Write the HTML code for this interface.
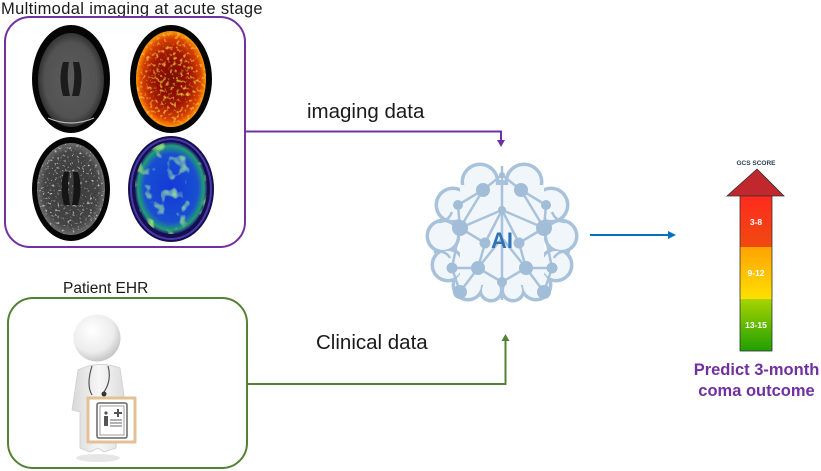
<!DOCTYPE html>
<html><head><meta charset="utf-8"><style>
html,body{margin:0;padding:0;background:#fff;}
svg{display:block;}
text{font-family:"Liberation Sans",sans-serif;}
</style></head><body>
<svg width="821" height="471" viewBox="0 0 821 471" xmlns="http://www.w3.org/2000/svg">
<defs>
  <filter id="speck" x="0" y="0" width="100%" height="100%">
    <feTurbulence type="fractalNoise" baseFrequency="0.3" numOctaves="2" seed="3" result="n"/>
    <feColorMatrix in="n" type="matrix" values="0 0 0 0 1  0 0 0 0 0.55  0 0 0 0 0.05  0 0 0 3 -1.65" result="s"/>
    <feComposite in="s" in2="SourceGraphic" operator="in" result="sc"/>
    <feMerge><feMergeNode in="SourceGraphic"/><feMergeNode in="sc"/></feMerge>
  </filter>
  <filter id="speckW" x="0" y="0" width="100%" height="100%">
    <feTurbulence type="fractalNoise" baseFrequency="0.4" numOctaves="2" seed="7" result="n"/>
    <feColorMatrix in="n" type="matrix" values="0 0 0 0 0.85  0 0 0 0 0.85  0 0 0 0 0.85  0 0 0 3 -1.85" result="s"/>
    <feComposite in="s" in2="SourceGraphic" operator="in" result="sc"/>
    <feMerge><feMergeNode in="SourceGraphic"/><feMergeNode in="sc"/></feMerge>
  </filter>
  <filter id="speckG" x="0" y="0" width="100%" height="100%">
    <feTurbulence type="fractalNoise" baseFrequency="0.09" numOctaves="2" seed="11" result="n"/>
    <feColorMatrix in="n" type="matrix" values="0 0 0 0 0.35  0 0 0 0 0.9  0 0 0 0 0.2  0 0 0 3 -1.75" result="s"/>
    <feComposite in="s" in2="SourceGraphic" operator="in" result="sc"/>
    <feMerge><feMergeNode in="SourceGraphic"/><feMergeNode in="sc"/></feMerge>
  </filter>
  <radialGradient id="t1" cx="50%" cy="50%" r="50%">
    <stop offset="0" stop-color="#5c5c5c"/><stop offset="0.8" stop-color="#525252"/><stop offset="1" stop-color="#333"/>
  </radialGradient>
  <radialGradient id="pet" cx="50%" cy="50%" r="50%">
    <stop offset="0" stop-color="#7a0800"/><stop offset="0.55" stop-color="#a01400"/><stop offset="0.85" stop-color="#d84000"/><stop offset="1" stop-color="#ff9800"/>
  </radialGradient>
  <radialGradient id="flair" cx="50%" cy="50%" r="50%">
    <stop offset="0" stop-color="#3c3c3c"/><stop offset="0.8" stop-color="#444"/><stop offset="1" stop-color="#6a6a6a"/>
  </radialGradient>
  <radialGradient id="blue" cx="50%" cy="50%" r="50%">
    <stop offset="0" stop-color="#1438d8"/><stop offset="0.75" stop-color="#1a50d0"/><stop offset="0.92" stop-color="#20a070"/><stop offset="1" stop-color="#2a1f8a"/>
  </radialGradient>
  <radialGradient id="head" cx="40%" cy="35%" r="65%">
    <stop offset="0" stop-color="#ffffff"/><stop offset="0.7" stop-color="#ececec"/><stop offset="1" stop-color="#c8c8c8"/>
  </radialGradient>
  <linearGradient id="body" x1="0" y1="0" x2="1" y2="0">
    <stop offset="0" stop-color="#d8d8d8"/><stop offset="0.5" stop-color="#f6f6f6"/><stop offset="1" stop-color="#dcdcdc"/>
  </linearGradient>
  <linearGradient id="red" x1="0" y1="0" x2="0" y2="1">
    <stop offset="0" stop-color="#ff2a1f"/><stop offset="1" stop-color="#f04a10"/>
  </linearGradient>
  <linearGradient id="yel" x1="0" y1="0" x2="0" y2="1">
    <stop offset="0" stop-color="#ffa200"/><stop offset="1" stop-color="#ffe000"/>
  </linearGradient>
  <linearGradient id="grn" x1="0" y1="0" x2="0" y2="1">
    <stop offset="0" stop-color="#a8d400"/><stop offset="1" stop-color="#1fa000"/>
  </linearGradient>
</defs>

<!-- Title -->
<text x="1" y="14" font-size="16.5" fill="#1a1a1a" letter-spacing="0.35">Multimodal imaging at acute stage</text>

<!-- Purple box -->
<rect x="5" y="17" width="240" height="230" rx="25" ry="25" fill="none" stroke="#7030a0" stroke-width="2"/>

<!-- MRI top-left -->
<ellipse cx="71" cy="79" rx="39" ry="54" fill="#050505"/>
<ellipse cx="71" cy="80" rx="33" ry="47" fill="url(#t1)"/>
<path d="M63 62 Q58 78 63 96 L70 96 Q66 78 69 62 Z M79 62 Q84 78 79 96 L72 96 Q76 78 73 62 Z" fill="#1c1c1c"/>
<path d="M48 118 Q71 128 94 118" stroke="#bdbdbd" stroke-width="1.2" fill="none"/>

<!-- MRI top-right -->
<ellipse cx="171" cy="79" rx="41" ry="54" fill="#050505"/>
<ellipse cx="171" cy="79" rx="35" ry="48" fill="url(#pet)" filter="url(#speck)"/>

<!-- MRI bottom-left -->
<ellipse cx="71" cy="189" rx="39" ry="52" fill="#050505"/>
<ellipse cx="71" cy="189" rx="34" ry="46" fill="url(#flair)" filter="url(#speckW)"/>
<path d="M64 172 Q59 188 64 205 L70 205 Q67 188 69 172 Z M78 172 Q83 188 78 205 L72 205 Q75 188 73 172 Z" fill="#151515"/>

<!-- MRI bottom-right -->
<ellipse cx="171" cy="189" rx="43" ry="53" fill="#14104a"/>
<ellipse cx="171" cy="189" rx="40" ry="50" fill="none" stroke="#4a38b0" stroke-width="2"/>
<ellipse cx="171" cy="188" rx="36" ry="46" fill="url(#blue)" filter="url(#speckG)"/>

<!-- imaging data connector -->
<polyline points="245,131.5 501,131.5 501,141" fill="none" stroke="#7030a0" stroke-width="2"/>
<polygon points="497,140 505,140 501,147" fill="#7030a0"/>
<text x="307" y="118" font-size="20.5" fill="#1a1a1a">imaging data</text>

<!-- Patient EHR -->
<text x="63" y="293" font-size="15.5" fill="#1a1a1a">Patient EHR</text>
<rect x="8" y="298" width="239" height="170" rx="25" ry="25" fill="none" stroke="#548235" stroke-width="2"/>

<!-- Doctor figure -->
<ellipse cx="98" cy="458" rx="22" ry="4" fill="#e6e6e6"/>
<path d="M78 370 Q98 360 120 368 L126 410 L118 412 L116 448 L104 452 L98 448 L90 452 L80 448 L80 412 L72 410 Z" fill="url(#body)" stroke="#cfcfcf" stroke-width="0.8"/>
<path d="M92 366 Q86 385 92 395 M108 366 Q112 380 104 392" stroke="#555" stroke-width="1.2" fill="none"/>
<circle cx="104" cy="394" r="2.5" fill="#333"/>
<circle cx="97" cy="338" r="23.5" fill="url(#head)"/>
<!-- Clipboard -->
<rect x="88" y="398" width="47" height="44" fill="#fff" stroke="#e2c196" stroke-width="3"/>
<rect x="97" y="403" width="30" height="35" rx="2" fill="#fff" stroke="#666" stroke-width="1.5"/>
<rect x="100" y="406" width="24" height="29" fill="none" stroke="#888" stroke-width="0.8"/>
<path d="M118 409 V417 M114 413 H122" stroke="#555" stroke-width="2"/>
<circle cx="106" cy="413" r="1.6" fill="#555"/>
<rect x="104" y="416" width="4" height="10" fill="#555"/>
<path d="M110 420 H122 M110 423 H122 M110 426 H122" stroke="#666" stroke-width="1"/>

<!-- Clinical data connector -->
<polyline points="247,384 505.5,384 505.5,340" fill="none" stroke="#548235" stroke-width="2"/>
<polygon points="501.5,341 509.5,341 505.5,334" fill="#548235"/>
<text x="316" y="349" font-size="20.5" fill="#1a1a1a">Clinical data</text>

<!-- AI Brain -->
<g>
  <g fill="#a9c2dc">
    <circle cx="480" cy="182" r="19.5"/><circle cx="453" cy="205" r="18.5"/><circle cx="443" cy="236" r="17.5"/>
    <circle cx="448" cy="265" r="17.5"/><circle cx="468" cy="285" r="16.5"/><circle cx="491" cy="290" r="12.5"/>
    <circle cx="524" cy="182" r="19.5"/><circle cx="551" cy="205" r="18.5"/><circle cx="561" cy="236" r="17.5"/>
    <circle cx="556" cy="265" r="17.5"/><circle cx="536" cy="285" r="16.5"/><circle cx="513" cy="290" r="12.5"/>
    <rect x="470" y="180" width="64" height="110"/>
  </g>
  <g fill="#f1f6fb">
    <circle cx="480" cy="182" r="16"/><circle cx="453" cy="205" r="15"/><circle cx="443" cy="236" r="14"/>
    <circle cx="448" cy="265" r="14"/><circle cx="468" cy="285" r="13"/><circle cx="491" cy="290" r="9"/>
    <circle cx="524" cy="182" r="16"/><circle cx="551" cy="205" r="15"/><circle cx="561" cy="236" r="14"/>
    <circle cx="556" cy="265" r="14"/><circle cx="536" cy="285" r="13"/><circle cx="513" cy="290" r="9"/>
    <rect x="460" y="185" width="84" height="100"/>
  </g>
  <g stroke="#a9c2dc" stroke-width="2.5" fill="none">
    <path d="M502 166 V300"/>
    <path d="M438 222 Q448 222 452 212 M566 222 Q556 222 552 212"/>
    <path d="M434 252 Q446 250 450 258 M570 252 Q558 250 554 258"/>
    <line x1="483" y1="190" x2="502" y2="175"/><line x1="521" y1="190" x2="502" y2="175"/>
    <line x1="483" y1="190" x2="458" y2="205"/><line x1="521" y1="190" x2="546" y2="205"/>
    <line x1="483" y1="190" x2="460" y2="228"/><line x1="521" y1="190" x2="544" y2="228"/>
    <line x1="502" y1="210" x2="460" y2="228"/><line x1="502" y1="210" x2="544" y2="228"/>
    <line x1="502" y1="210" x2="485" y2="243"/><line x1="502" y1="210" x2="519" y2="243"/>
    <line x1="460" y1="228" x2="485" y2="243"/><line x1="544" y1="228" x2="519" y2="243"/>
    <line x1="460" y1="228" x2="452" y2="268"/><line x1="544" y1="228" x2="552" y2="268"/>
    <line x1="485" y1="243" x2="478" y2="268"/><line x1="519" y1="243" x2="526" y2="268"/>
    <line x1="502" y1="238" x2="478" y2="268"/><line x1="502" y1="238" x2="526" y2="268"/>
    <line x1="452" y1="268" x2="478" y2="268"/><line x1="552" y1="268" x2="526" y2="268"/>
    <line x1="478" y1="268" x2="502" y2="282"/><line x1="526" y1="268" x2="502" y2="282"/>
    <line x1="452" y1="268" x2="460" y2="292"/><line x1="552" y1="268" x2="544" y2="292"/>
    <line x1="478" y1="268" x2="460" y2="292"/><line x1="526" y1="268" x2="544" y2="292"/>
    <line x1="458" y1="205" x2="460" y2="228"/><line x1="546" y1="205" x2="544" y2="228"/>
  </g>
  <g fill="#a2bdd8">
    <circle cx="483" cy="190" r="7"/><circle cx="521" cy="190" r="7"/>
    <circle cx="458" cy="205" r="5"/><circle cx="546" cy="205" r="5"/>
    <circle cx="502" cy="210" r="4"/><circle cx="502" cy="175" r="3"/>
    <circle cx="460" cy="228" r="8"/><circle cx="544" cy="228" r="8"/>
    <circle cx="485" cy="243" r="5.5"/><circle cx="519" cy="243" r="5.5"/>
    <circle cx="452" cy="268" r="5.5"/><circle cx="478" cy="268" r="7"/>
    <circle cx="526" cy="268" r="7"/><circle cx="552" cy="268" r="5.5"/>
    <circle cx="502" cy="282" r="5"/><circle cx="460" cy="292" r="7"/><circle cx="544" cy="292" r="7"/>
  </g>
  <text x="502" y="248" font-size="22" font-weight="bold" fill="#2e74b5" text-anchor="middle">AI</text>
</g>

<!-- Blue arrow -->
<line x1="590" y1="235" x2="670" y2="235" stroke="#0070c0" stroke-width="2"/>
<polygon points="668,231 676,235 668,239" fill="#0070c0"/>

<!-- GCS arrow -->
<text x="756" y="165" font-size="6.5" font-weight="bold" fill="#2c3e50" text-anchor="middle">GCS SCORE</text>
<polygon points="757,169 784,196 727,196" fill="#c0282d" stroke="#333" stroke-width="0.8"/>
<rect x="740" y="196" width="32" height="51" fill="url(#red)"/>
<rect x="740" y="247" width="32" height="52" fill="url(#yel)"/>
<rect x="740" y="299" width="32" height="52" fill="url(#grn)"/>
<rect x="740" y="196" width="32" height="155" fill="none" stroke="#333" stroke-width="0.8"/>
<text x="756" y="225" font-size="8.5" font-weight="bold" fill="#fff" text-anchor="middle">3-8</text>
<text x="756" y="276" font-size="8.5" font-weight="bold" fill="#fff" text-anchor="middle">9-12</text>
<text x="756" y="328" font-size="8.5" font-weight="bold" fill="#fff" text-anchor="middle">13-15</text>

<text x="756.5" y="375" font-size="16.5" font-weight="bold" fill="#7030a0" text-anchor="middle">Predict 3-month</text>
<text x="756.5" y="396" font-size="16.5" font-weight="bold" fill="#7030a0" text-anchor="middle">coma outcome</text>
</svg>
</body></html>
